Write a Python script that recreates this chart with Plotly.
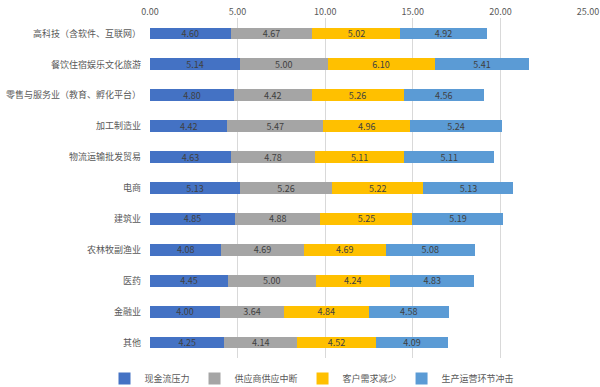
import plotly.graph_objects as go

categories = ["高科技（含软件、互联网）", "餐饮住宿娱乐文化旅游", "零售与服务业（教育、孵化平台）",
              "加工制造业", "物流运输批发贸易", "电商", "建筑业", "农林牧副渔业", "医药", "金融业", "其他"]
cash_flow = [4.60, 5.14, 4.80, 4.42, 4.63, 5.13, 4.85, 4.08, 4.45, 4.00, 4.25]
supply = [4.67, 5.00, 4.42, 5.47, 4.78, 5.26, 4.88, 4.69, 5.00, 3.64, 4.14]
demand = [5.02, 6.10, 5.26, 4.96, 5.11, 5.22, 5.25, 4.69, 4.24, 4.84, 4.52]
production = [4.92, 5.41, 4.56, 5.24, 5.11, 5.13, 5.19, 5.08, 4.83, 4.58, 4.09]
x_ticks = [0, 5, 10, 15, 20, 25]

series = [
    ("现金流压力", cash_flow, "#4472C4"),
    ("供应商供应中断", supply, "#A5A5A5"),
    ("客户需求减少", demand, "#FFC000"),
    ("生产运营环节冲击", production, "#5B9BD5"),
]

fig = go.Figure()
for name, vals, color in series:
    fig.add_trace(go.Bar(
        y=categories, x=vals, name=name, orientation="h",
        marker=dict(color=color, line=dict(width=0)),
        text=[f"{v:.2f}" for v in vals], textposition="inside",
        insidetextanchor="middle",
        textfont=dict(size=9, color="#404040", family="Noto Sans CJK SC"),
        constraintext="none",
    ))

fig.update_layout(
    barmode="stack", bargap=0.62,
    width=600, height=387,
    margin=dict(l=150, r=12, t=18, b=29, autoexpand=False),
    paper_bgcolor="white", plot_bgcolor="white",
    font=dict(family="Noto Sans CJK SC", size=9, color="#595959"),
    showlegend=True,
    legend=dict(orientation="h", xref="container", x=0.52, xanchor="center",
                y=-0.06, yanchor="middle",
                font=dict(size=9, color="#595959"), traceorder="normal",
                itemwidth=30, tracegroupgap=0),
    uniformtext=dict(minsize=9, mode="show"),
)
fig.update_xaxes(side="top", range=[0, 25], tickvals=x_ticks,
                 ticktext=[f"{t:.2f}" for t in x_ticks],
                 showgrid=True, gridcolor="#D9D9D9", gridwidth=1,
                 zeroline=False, showline=False, ticks="",
                 tickfont=dict(size=9, color="#595959"), automargin=False)
fig.update_yaxes(autorange="reversed", showgrid=False, showline=False, ticks="",
                 ticklabelstandoff=8, tickfont=dict(size=9, color="#595959"),
                 automargin=False)

fig.write_html("out.html",
               config={"displayModeBar": False, "staticPlot": True},
               post_script="document.body.style.margin='0';document.body.style.overflow='hidden';")
